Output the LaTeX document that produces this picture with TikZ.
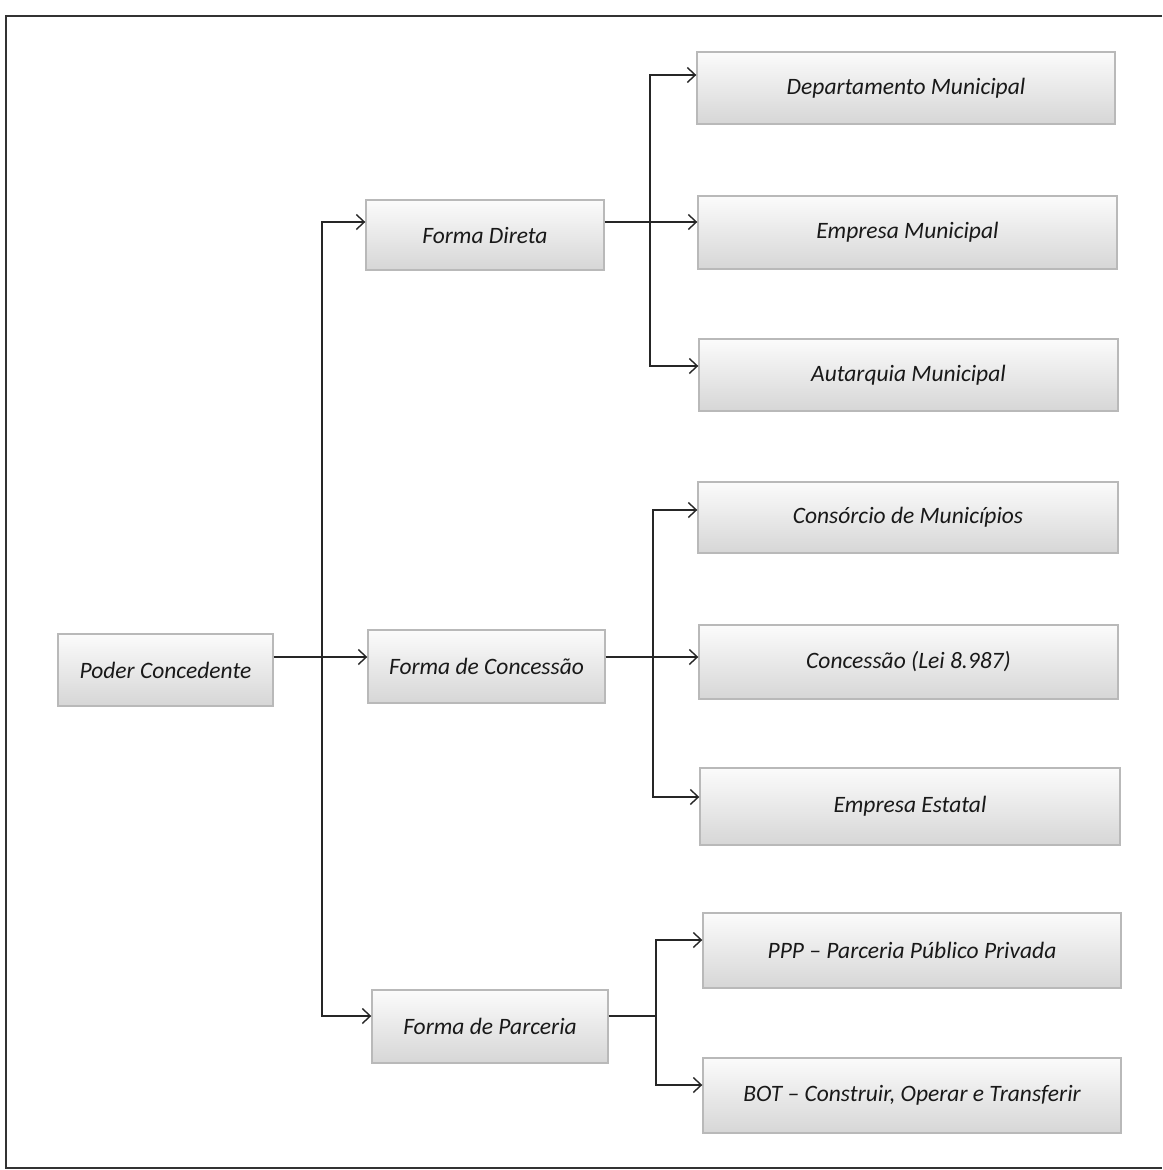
\documentclass[tikz,border=0pt]{standalone}
\usepackage{fontspec}
\setmainfont{Carlito}
\usetikzlibrary{arrows.meta}
\begin{document}
\begin{tikzpicture}[x=1pt,y=-1pt,
  box/.style={draw=gray!55, line width=1.4pt, top color=gray!3, bottom color=gray!32,
    minimum height=72pt, inner sep=0pt, font=\fontsize{23.5}{26}\selectfont\itshape, text=black!90},
  conn/.style={line width=1.4pt, draw=black!85},
  arr/.style={conn, -{Straight Barb[length=8pt,width=15pt,line width=1.4pt]}}]
\useasboundingbox (0,0) rectangle (1162,1170);
% frame
\draw[line width=1.5pt, black!80] (1162,16) -- (6,16) -- (6,1168) -- (1162,1168);
% level 0
\node[box, minimum width=215pt] (pc) at (165.5,670) {Poder Concedente};
% level 1
\node[box, minimum width=238pt, minimum height=70pt] (fd) at (485,235) {Forma Direta};
\node[box, minimum width=237pt, minimum height=73pt] (fc) at (486.5,666.5) {Forma de Concessão};
\node[box, minimum width=236pt, minimum height=73pt] (fp) at (490,1026.5) {Forma de Parceria};
% level 2
\node[box, minimum width=418pt] (dm) at (906,88) {Departamento Municipal};
\node[box, minimum width=419pt, minimum height=73pt] (em) at (907.5,232.5) {Empresa Municipal};
\node[box, minimum width=419pt] (am) at (908.5,375) {Autarquia Municipal};
\node[box, minimum width=420pt, minimum height=71pt] (cm) at (908,517.5) {Consórcio de Municípios};
\node[box, minimum width=419pt, minimum height=74pt] (cl) at (908.5,662) {Concessão (Lei 8.987)};
\node[box, minimum width=420pt, minimum height=77pt] (ee) at (910,806.5) {Empresa Estatal};
\node[box, minimum width=418pt, minimum height=75pt] (ppp) at (912,950.5) {PPP -- Parceria Público Privada};
\node[box, minimum width=418pt, minimum height=75pt] (bot) at (912,1095.5) {BOT -- Construir, Operar e Transferir};
% branch points
\coordinate (b0) at (322,657);
\coordinate (b1) at (650,222);
\coordinate (b2) at (653,657);
\coordinate (b3) at (656,1016);
% connectors level 0 -> 1
\draw[conn] (b0 -| pc.east) -- (b0);
\draw[arr] (b0) |- ([yshift=13pt]fd.west);
\draw[arr] (b0) -- (b0 -| fc.west);
\draw[arr] (b0) |- ([yshift=10.5pt]fp.west);
% Forma Direta
\draw[conn] (b1 -| fd.east) -- (b1);
\draw[arr] (b1) |- ([yshift=13pt]dm.west);
\draw[arr] (b1) -- (b1 -| em.west);
\draw[arr] (b1) |- ([yshift=9pt]am.west);
% Forma de Concessao
\draw[conn] (b2 -| fc.east) -- (b2);
\draw[arr] (b2) |- ([yshift=7.5pt]cm.west);
\draw[arr] (b2) -- (b2 -| cl.west);
\draw[arr] (b2) |- ([yshift=9.5pt]ee.west);
% Forma de Parceria
\draw[conn] (b3 -| fp.east) -- (b3);
\draw[arr] (b3) |- ([yshift=10.5pt]ppp.west);
\draw[arr] (b3) |- ([yshift=10.5pt]bot.west);
\end{tikzpicture}
\end{document}
